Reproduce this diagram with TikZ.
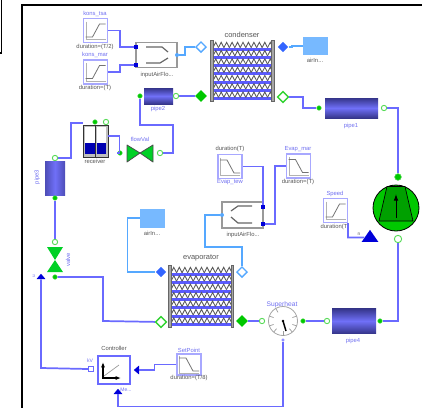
\documentclass[tikz,border=0pt]{standalone}
\usepackage{fontspec}
\setmainfont{Liberation Sans}
\usetikzlibrary{arrows.meta,shapes.geometric,calc}
\definecolor{wireblue}{HTML}{6A6AFF}
\definecolor{airblue}{HTML}{55A8FF}
\definecolor{boxblue}{HTML}{A8A8FF}
\definecolor{portgreen}{HTML}{00C800}
\definecolor{labblue}{HTML}{7070F0}
\definecolor{labgrey}{HTML}{555555}
\definecolor{pipemid}{HTML}{7070F8}
\definecolor{pipedark}{HTML}{35358A}
\newdimen\pxu \pxu=0.75pt
\tikzset{
  wire/.style={draw=wireblue,line width=1.3pt,line join=miter},
  airwire/.style={draw=airblue,line width=1.15pt},
  lab/.style={font=\fontsize{4.4}{5}\selectfont,text=labgrey,inner sep=0pt},
  labb/.style={font=\fontsize{4.4}{5}\selectfont,text=labblue,inner sep=0pt},
  pf/.style={circle,fill=portgreen,draw=portgreen!70!white,inner sep=0pt,minimum size=3.4pt},
  ph/.style={circle,fill=white,draw=portgreen!65!white,line width=.7pt,inner sep=0pt,minimum size=4pt},
  df/.style={diamond,fill=portgreen,inner sep=0pt,minimum size=9pt},
  dh/.style={diamond,fill=white,draw=portgreen!80!white,line width=1pt,inner sep=0pt,minimum size=8.5pt},
  ab/.style={diamond,fill=airblue!60!blue,inner sep=0pt,minimum size=8pt},
  ah/.style={diamond,fill=white,draw=airblue,line width=1pt,inner sep=0pt,minimum size=8pt},
  sq/.style={rectangle,fill=blue!85!black,inner sep=0pt,minimum size=3pt},
  sl/.style={circle,fill=airblue,inner sep=0pt,minimum size=3pt},
  rampbox/.style={rectangle,draw=boxblue,line width=.8pt,fill=white,minimum width=24\pxu,minimum height=24\pxu,inner sep=0pt},
  airbox/.style={rectangle,draw=airblue!80!white,fill=airblue!80!white,line width=.5pt,inner sep=0pt},
  inbox/.style={rectangle,draw=gray!80,line width=.8pt,fill=white,minimum width=41\pxu,minimum height=25\pxu,inner sep=0pt},
  pipeh/.style={rectangle,top color=pipedark,bottom color=pipedark,middle color=pipemid,inner sep=0pt},
  pipev/.style={rectangle,left color=pipedark!60!pipemid,right color=pipedark!60!pipemid,middle color=pipemid,inner sep=0pt},
  valveshape/.style={fill=portgreen!85!cyan,draw=black!70,line width=.6pt,line join=round},
  smalltri/.style={isosceles triangle,isosceles triangle apex angle=80,fill=blue!85!black,minimum width=5pt,minimum height=4pt,inner sep=0pt},
}
\newcommand{\rampblock}[5][]{% options, name, x, y, 1=rising / -1=falling
  \node[rampbox,#1] (#2) at (#3,#4) {};
  \draw[gray!60,line width=.25pt] ($(#3,#4)+(-9.5,-9)$) -- ($(#3,#4)+(-9.5,9)$) -- ($(#3,#4)+(10,9)$);
  \draw[gray!90!black,line width=.6pt] ($(#3,#4)+(-10,6.5*#5)$) -- ($(#3,#4)+(-3,6.5*#5)$) -- ($(#3,#4)+(4,-6.5*#5)$) -- ($(#3,#4)+(10,-6.5*#5)$);
}
\newcommand{\coil}[4]{% x0,y0,x1,y1
  \fill[wireblue!85!blue] (#1,#2) rectangle (#3,#4);
  \pgfmathsetmacro{\rowh}{(#4-#2)/7}
  \foreach \r in {0,...,6}{
    \pgfmathsetmacro{\ya}{#2+\r*\rowh+.3}
    \pgfmathsetmacro{\yb}{\ya+\rowh-3}
    \pgfmathsetmacro{\stepx}{(#3-#1)/11}
    \fill[white] (#1,\ya) rectangle (#3,\yb);
    \foreach \k in {0,...,10}{
      \pgfmathsetmacro{\xa}{#1+\k*\stepx}
      \pgfmathsetmacro{\xb}{\xa+\stepx/2}
      \pgfmathsetmacro{\xc}{\xa+\stepx}
      \draw[black!65,line width=.65pt] (\xa,\yb) -- (\xb,\ya) -- (\xc,\yb);
    }
  }
}
\begin{document}
\begin{tikzpicture}[x=0.75pt,y=-0.75pt]
\useasboundingbox (0,0) rectangle (422,408);
% frames
\draw[black,line width=1.3pt] (422,5) -- (22,5) -- (22,408);
\draw[black,line width=1.3pt] (1.5,0) -- (1.5,53) -- (0,53);

% condenser side blocks
\rampblock{konsA}{95.5}{30.5}{1}
\rampblock{konsB}{95.5}{72}{1}
\node[labb] (konsAt) at (95,14) {kons\_tsa};
\node[lab]  (konsAb) at (95,46.5) {duration=(T/2)};
\node[labb] (konsBt) at (95,55) {kons\_mar};
\node[lab]  (konsBb) at (95,87.5) {duration=(T)};

% input air flow 1
\node[inbox] (inA) at (156.5,55) {};
\draw[black!60,line width=.9pt] (146,47) -- (162,47) -- (168,52);
\draw[black!60,line width=.9pt] (146,63) -- (160,63) -- (168,58);
\node[lab] (inAl) at (157,75) {inputAirFlo...};
\node[sq] (inAa) at (136,47) {};
\node[sq] (inAb) at (136,65) {};
\node[sl] (inAo) at (177,55) {};
\draw[wire] (konsA.east) -- ++(12,0) |- (inAa);
\draw[wire] (konsB.east) -- ++(12,0) |- (inAb);
\node[ah] (condAirP) at (201,47) {};
\draw[airwire] (inAo) -- ++(8,0) |- (condAirP);

% condenser
\coil{213}{42}{273}{100}
\fill[gray!70] (210.5,40) rectangle (213,101);
\fill[gray!70] (271.5,40) rectangle (274,101);
\draw[black!60,line width=.3pt] (210.5,40) rectangle (213,101) (271.5,40) rectangle (274,101);
\node[lab,font=\fontsize{5.6}{6}\selectfont] (condL) at (242,35) {condenser};
\node[ab] (condAir) at (283,47) {};
\node[dh] (condOut) at (283,97) {};
\node[df] (condIn)  at (201,96) {};
\node[airbox,minimum width=24\pxu,minimum height=17\pxu] (airIn) at (315,46) {};
\node[lab] (airInL) at (315,60) {airIn...};
\draw[airwire] (condAir) -- ++(9,0) |- (airIn.west);

% pipe2
\node[pipeh,minimum width=29\pxu,minimum height=16\pxu] (pipeB) at (158.5,96) {};
\node[labb] (pipeBl) at (158,109) {pipe2};
\node[pf] (pipeBa) at (140,96) {};
\node[ph] (pipeBb) at (176,96) {};
\draw[wire] (pipeBb) -- (condIn);

% pipe1
\node[pipeh,minimum width=53\pxu,minimum height=20\pxu] (pipeA) at (351.5,108) {};
\node[labb] (pipeAl) at (351,126) {pipe1};
\node[pf] (pipeAa) at (319,108) {};
\node[ph] (pipeAb) at (384,108) {};
\draw[wire] (condOut) -- ++(20,0) |- (pipeAa);

% compressor
\node[circle,draw=black,fill=portgreen,line width=.6pt,minimum size=46\pxu,inner sep=0pt] (comp) at (396,208) {};
\fill[portgreen!80!black,draw=black,line width=.5pt] (387,186.5) -- (405,186.5) -- (413,221) -- (379,221) -- cycle;
\draw[black,line width=.7pt,-{Latex[length=5pt,width=3.5pt]}] (396,218) -- (396,194);
\node[pf,minimum size=5pt] (compT) at (398,177) {};
\node[ph,minimum size=5.5pt] (compB) at (398,239) {};
\draw[wire] (pipeAb) -| (compT);

% pipe4
\node[pipeh,minimum width=44\pxu,minimum height=25\pxu] (pipeD) at (354,321) {};
\node[labb] (pipeDl) at (353,341) {pipe4};
\node[ph] (pipeDa) at (327,321) {};
\node[pf] (pipeDb) at (380,321) {};
\draw[wire] (pipeDb) -| (compB);

% gauge
\node[circle,draw=gray!70,fill=white,line width=.6pt,minimum size=29\pxu,inner sep=0pt] (gauge) at (283,321) {};
\foreach \a in {20,50,90,130,160,200,240,-20}{
  \draw[gray!80,line width=.5pt] ($(gauge)+(\a:14.5)$) -- ($(gauge)+(\a:10)$);
}
\fill[black] (283,321) circle (1.3);
\draw[black,line width=1.1pt] (283,321) -- (286,331);
\node[labb,font=\fontsize{5}{5}\selectfont] (gaugeL) at (282,304.5) {Superheat};
\node[ph] (gaugeA) at (262,321) {};
\node[pf] (gaugeB) at (303,321) {};
\node[circle,draw=wireblue,fill=white,inner sep=0pt,minimum size=2pt] (gaugeS) at (283,340) {};
\draw[wire] (gaugeB) -- (pipeDa);

% evaporator
\coil{171}{267}{232}{326}
\fill[gray!70] (168.5,265) rectangle (171,327);
\fill[gray!70] (231,265) rectangle (233.5,327);
\draw[black!60,line width=.3pt] (168.5,265) rectangle (171,327) (231,265) rectangle (233.5,327);
\node[lab,font=\fontsize{5.6}{6}\selectfont] (evapL) at (201,258) {evaporator};
\node[ab] (evapAir) at (161,272) {};
\node[dh] (evapIn) at (161,322) {};
\node[df] (evapOut) at (242,321) {};
\node[ah] (evapAirO) at (242,272) {};
\draw[wire] (evapOut) -- (gaugeA);
\node[airbox,minimum width=24\pxu,minimum height=18\pxu] (airOut) at (152,218) {};
\node[lab] (airOutL) at (152,233) {airIn...};
\draw[airwire] (airOut.west) -- ++(-12,0) |- (evapAir);

% input air flow 2
\node[inbox,minimum height=26\pxu] (inB) at (242.5,215) {};
\draw[black!60,line width=.9pt] (252,206) -- (238,206) -- (231,211);
\draw[black!60,line width=.9pt] (252,223) -- (238,223) -- (231,217);
\node[lab] (inBl) at (243,235) {inputAirFlo...};
\node[sq] (inBa) at (263,207) {};
\node[sq] (inBb) at (263,224) {};
\node[sl] (inBo) at (222,215) {};
\draw[airwire] (evapAirO) -- ++(0,-25) -| ++(-37,-32) -- (inBo);
\rampblock{evA}{230}{166.5}{-1}
\rampblock{evB}{298.5}{166}{-1}
\node[lab]  (evAt) at (230,149) {duration(T)};
\node[labb] (evAb) at (230,182) {Evap\_tew};
\node[labb] (evBt) at (298,149) {Evap\_mar};
\node[lab]  (evBb) at (298,182) {duration=(T)};
\draw[wire] (evA.east) -| (inBa);
\draw[wire] (evB.west) -- ++(-11,0) |- (inBb);

% speed
\rampblock{speed}{335.5}{210.5}{1}
\node[labb] (speedt) at (335,194) {Speed};
\node[lab] (speedb) at (335,226.5) {duration(T)};
\node[isosceles triangle,isosceles triangle apex angle=70,isosceles triangle stretches,shape border rotate=90,fill=blue!85!black,minimum width=12.5pt,minimum height=9pt,inner sep=0pt] (speedT) at (370,237.5) {};
\node[lab,font=\fontsize{3.5}{4}\selectfont] (speedN) at (359,234) {n};
\draw[wire] (speed.south east) -- ++(0,14.5) -- (speedT.west);

% receiver
\fill[gray!50] (83,125) rectangle (108,157);
\fill[white] (85,127) rectangle (94.5,143);
\fill[white] (97,127) rectangle (106,143);
\fill[blue!70!black] (85,143) rectangle (94.5,154);
\fill[blue!70!black] (97,143) rectangle (106,154);
\node[rectangle,draw=black!80,line width=.7pt,minimum width=25\pxu,minimum height=32\pxu,inner sep=0pt] (recv) at (95.5,141) {};
\draw[black!80,line width=.7pt] (95.7,125) -- (95.7,157);
\node[lab] (recvL) at (95,161) {receiver};
\node[pf] (recvA) at (95,122) {};
\node[ph] (recvB) at (106,122) {};

% throttle valve
\coordinate (vc) at (140,153);
\draw[valveshape] (127,145) -- (140,153) -- (127,162) -- cycle;
\draw[valveshape] (153,145) -- (140,153) -- (153,162) -- cycle;
\node[labb] (vl) at (140,139) {flowVal};
\node[pf] (va) at (120,153) {};
\node[ph] (vb) at (160,153) {};
\draw[wire] (recv.east |- 0,136) -- ++(11,0) |- (va);
\draw[wire] (vb) -- ++(13,0) |- ++(-33,-28) -- (pipeBa);

% pipe3
\node[pipev,minimum width=20\pxu,minimum height=34\pxu] (pipeC) at (55,178) {};
\node[labb,rotate=90] (pipeCl) at (37,177) {pipe3};
\node[ph] (pipeCa) at (55,158) {};
\node[pf] (pipeCb) at (55,198) {};
\draw[wire] (pipeCa) -| (71,123) -- (recv.north west |- 0,123);

% expansion valve
\draw[valveshape,draw=none] (47,247) -- (63,247) -- (55,260) -- cycle;
\draw[valveshape,draw=none] (47,272) -- (63,272) -- (55,260) -- cycle;
\node[labb,rotate=90] (expL) at (68,260) {valve};
\node[ph] (expA) at (55,242) {};
\node[pf] (expB) at (55,277) {};
\draw[wire] (pipeCb) -- (expA);
\draw[wire] (expB) -| (103,321) -- (evapIn);
\node[smalltri,shape border rotate=90] (expU) at (41,277) {};
\node[labb,rotate=90,font=\fontsize{3.5}{4}\selectfont] (expUl) at (34,276) {u};

% controller
\node[rectangle,draw=wireblue,line width=1.1pt,fill=white,minimum width=32\pxu,minimum height=28\pxu,inner sep=0pt] (ctrl) at (114,370) {};
\draw[black,line width=1pt,-{Latex[length=4pt,width=3pt]}] (103,378) -- (103,362);
\draw[black,line width=1pt,-{Latex[length=4pt,width=3pt]}] (102,378) -- (121,378);
\draw[gray!80,line width=.5pt] (104,376) -- (119,365);
\node[lab] (ctrlL) at (114,348) {Controller};
\node[labb,font=\fontsize{3.8}{4}\selectfont] (ctrlV) at (90,361) {kV};
\node[labb,font=\fontsize{3.8}{4}\selectfont] (ctrlM) at (126,390) {Me...};
\node[rectangle,draw=wireblue,fill=white,line width=.6pt,inner sep=0pt,minimum width=4pt,minimum height=4pt] (ctrlU) at (91,369) {};
\draw[wire] (expU.south) -- (41,368) -- (ctrlU.west);
\node[smalltri,shape border rotate=180] (ctrlS) at (137,370) {};
\node[smalltri,shape border rotate=90] (ctrlM2) at (118,392) {};
\rampblock[minimum height=21\pxu]{setp}{189}{364.5}{-1}
\node[labb] (setpT) at (189,350.5) {SetPoint};
\node[lab] (setpB) at (189,378) {duration=(T/8)};
\draw[wire] (setp.west) -- ++(-22,0) |- (ctrlS);
\draw[wire] (gaugeS) -- (283,406.5) -- (118,406.5) -- (ctrlM2.south);
\end{tikzpicture}
\end{document}
